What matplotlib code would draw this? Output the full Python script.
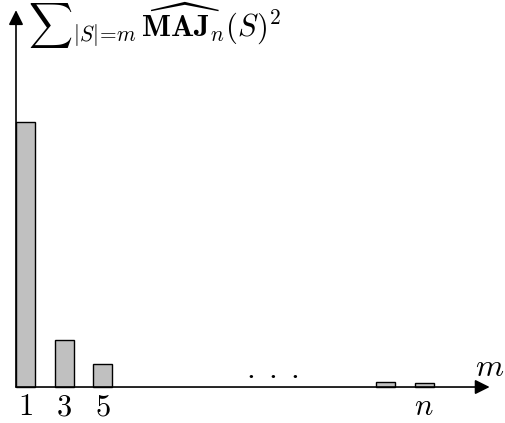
import matplotlib
matplotlib.use("Agg")
import matplotlib.pyplot as plt

plt.rcParams['mathtext.fontset'] = 'cm'
plt.rcParams['font.family'] = ['DejaVu Serif']

# bar positions (in units of m) and heights (sum of squared Fourier weights)
positions = [1, 3, 5, 19.7, 21.7]
weights = [0.640, 0.113, 0.056, 0.012, 0.010]
tick_pos = [1, 3, 5, 21.7]
tick_labels = [r'$1$', r'$3$', r'$5$', r'$n$']

fig = plt.figure(figsize=(5.06, 4.23), dpi=100)
ax = fig.add_axes([0, 0, 1, 1])
ax.set_xlim(-0.331, 25.95)
ax.set_ylim(-0.0869, 0.9346)
ax.axis('off')

ax.bar(positions, weights, width=1.0, color='#c0c0c0',
       edgecolor='black', linewidth=1.0, zorder=2)

arrow = dict(arrowstyle='-|>', mutation_scale=22, lw=1.2, color='black',
             shrinkA=0, shrinkB=0)
ax.annotate('', xy=(25.1, 0), xytext=(0.5, 0), arrowprops=arrow, zorder=3)
ax.annotate('', xy=(0.5, 0.91), xytext=(0.5, 0), arrowprops=arrow, zorder=3)

# tick labels sit on a common baseline just under the axis
for p, lab in zip(tick_pos, tick_labels):
    ax.text(p, -0.0676, lab, ha='center', va='baseline', fontsize=22)

ax.text(25.12, 0.047, r'$m$', ha='center', va='center', fontsize=23)
ax.text(13.8, 0.022, r'$.\;.\;.$', ha='center', va='baseline', fontsize=23)
ax.text(1.12, 0.847,
        r'${\sum}_{|S|\!=\!m}\,\widehat{\mathbf{MAJ}}_n(S)^2$',
        ha='left', va='baseline', fontsize=22)

fig.savefig('out.png', dpi=100)
